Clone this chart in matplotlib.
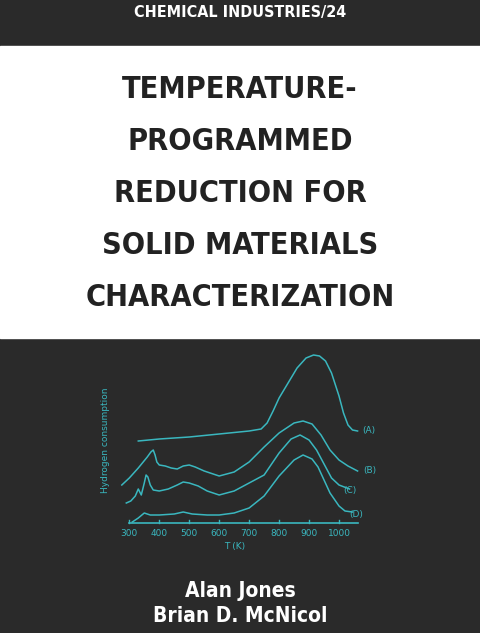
import matplotlib
matplotlib.use("Agg")
import matplotlib.pyplot as plt
from matplotlib.patches import Rectangle

W, H = 480, 633
BG = "#2a2a2a"
CY = "#3ab7bf"

series_label = "CHEMICAL INDUSTRIES/24"
title_lines = ["TEMPERATURE-", "PROGRAMMED", "REDUCTION FOR", "SOLID MATERIALS", "CHARACTERIZATION"]
authors = ["Alan Jones", "Brian D. McNicol"]

xticks = [300, 400, 500, 600, 700, 800, 900, 1000]
xlabel = "T (K)"
ylabel = "Hydrogen consumption"

T_A = [330, 400, 500, 600, 700, 740, 760, 780, 800, 830, 860, 890, 915, 935, 955, 975, 1000, 1015, 1030, 1045, 1062]
H_A = [82, 84, 86, 89, 92, 94, 100, 112, 125, 140, 155, 165, 168, 167, 162, 150, 127, 110, 98, 93, 92]
T_B = [275, 300, 330, 360, 372, 380, 386, 392, 400, 420, 440, 460, 480, 500, 520, 550, 600, 650, 700, 750, 800, 850, 880, 910, 940, 970, 1000, 1030, 1062]
H_B = [38, 45, 55, 66, 71, 73, 68, 61, 58, 57, 55, 54, 57, 58, 56, 52, 47, 51, 61, 76, 90, 100, 102, 99, 88, 73, 63, 57, 52]
T_C = [290, 305, 320, 330, 340, 350, 356, 362, 370, 380, 400, 430, 460, 480, 500, 530, 560, 600, 650, 700, 750, 800, 840, 870, 900, 925, 950, 975, 1000, 1035]
H_C = [20, 22, 27, 34, 28, 40, 48, 46, 38, 33, 32, 34, 38, 41, 40, 37, 32, 28, 32, 40, 48, 70, 84, 88, 83, 73, 59, 45, 38, 34]
T_D = [310, 330, 350, 370, 400, 450, 480, 510, 560, 600, 650, 700, 750, 800, 850, 880, 910, 930, 950, 970, 1000, 1020, 1045]
H_D = [1, 5, 10, 8, 8, 9, 11, 9, 8, 8, 10, 15, 27, 47, 63, 68, 64, 56, 43, 30, 17, 12, 11]
curve_names = ["(A)", "(B)", "(C)", "(D)"]

fig = plt.figure(figsize=(W / 100, H / 100), dpi=100)
fig.patch.set_facecolor(BG)

def px(x, y, w, h):
    return [x / W, 1 - (y + h) / H, w / W, h / H]

bg = fig.add_axes([0, 0, 1, 1])
bg.set_xlim(0, W); bg.set_ylim(H, 0); bg.axis("off")
bg.add_patch(Rectangle((0, 46), W, 292, color="white"))
bg.text(240, 13, series_label, color="white", ha="center", va="center",
        fontsize=11.5, fontweight="bold", family="DejaVu Sans", fontstretch="condensed")
for i, t in enumerate(title_lines):
    bg.text(240, 89 + i * 52, t, color="#222222", ha="center", va="center",
            fontsize=22, fontweight="heavy", family="DejaVu Sans", fontstretch="condensed")
for i, t in enumerate(authors):
    bg.text(240, 591 + i * 25, t, color="white", ha="center", va="center",
            fontsize=15, fontweight="bold", family="DejaVu Sans", fontstretch="condensed")

ax = fig.add_axes(px(100, 333, 300, 220))
ax.set_facecolor("none")
ax.axis("off")
ax.set_xlim(202.2, 1203.6)
ax.set_ylim(-30, 190)
for T, Hh in [(T_A, H_A), (T_B, H_B), (T_C, H_C), (T_D, H_D)]:
    ax.plot(T, Hh, color=CY, lw=1.1)
ax.plot([300, 1063], [0, 0], color=CY, lw=1.2)
for t in xticks:
    ax.plot([t, t], [0, 3], color=CY, lw=1)
    ax.text(t, -11, str(t), color=CY, ha="center", va="center", fontsize=6.5)
ax.text(650, -24, xlabel, color=CY, ha="center", va="center", fontsize=6.5)
ax.text(220, 83, ylabel, color=CY, ha="center", va="center", rotation=90, fontsize=6.5)
for name, (x, y) in zip(curve_names, [(1098, 92), (1103, 53), (1037, 33), (1057, 9)]):
    ax.text(x, y, name, color=CY, ha="center", va="center", fontsize=6.5)

fig.savefig("out.png", dpi=100, facecolor=BG)
